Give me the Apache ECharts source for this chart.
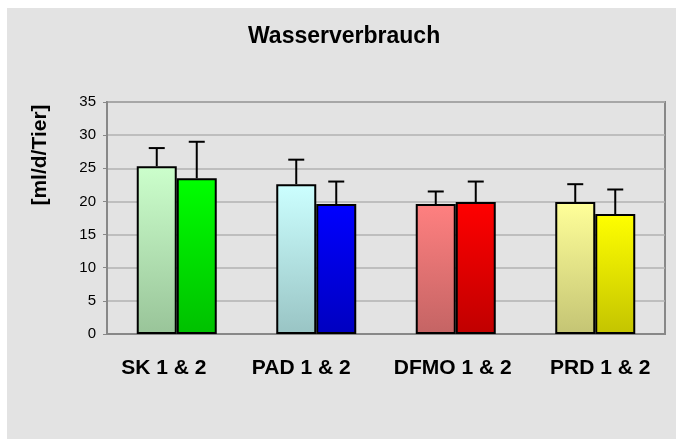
<!DOCTYPE html>
<html>
<head>
<meta charset="utf-8">
<script src="https://cdn.jsdelivr.net/npm/echarts@6/dist/echarts.min.js"></script>
<style>
html,body{margin:0;padding:0;background:#ffffff;}
#chart{width:677px;height:439px;}
</style>
</head>
<body>
<div id="chart"></div>
<script>
// ---- data ----
const categories = ['SK 1 & 2', 'PAD 1 & 2', 'DFMO 1 & 2', 'PRD 1 & 2'];
const values1 = [25.3, 22.6, 19.6, 19.9];
const values2 = [23.5, 19.6, 19.9, 18.1];
const err1 = [2.75, 3.7, 1.9, 2.7];
const err2 = [5.5, 3.4, 3.1, 3.7];
const yTicks = [0, 5, 10, 15, 20, 25, 30, 35];

// ---- styles ----
const top1 = ['#ccffcc', '#ccffff', '#ff8080', '#ffff99'];
const bot1 = ['#99c499', '#99c4c4', '#c46464', '#c4c474'];
const top2 = ['#00ff00', '#0000ff', '#ff0000', '#ffff00'];
const bot2 = ['#00c000', '#0000c0', '#c00000', '#c4c400'];
const labelShift = [-13, -15, -3, 5];
const FONT = '"Liberation Sans", Arial, sans-serif';
const BAR_W = 40;

function grad(t, b) {
  return new echarts.graphic.LinearGradient(0, 0, 0, 1, [
    { offset: 0, color: t }, { offset: 1, color: b }
  ]);
}

const chart = echarts.init(document.getElementById('chart'), null, { renderer: 'canvas' });

const errData = [];
categories.forEach((c, i) => {
  errData.push([i, values1[i], err1[i], -1]);
  errData.push([i, values2[i], err2[i], 1]);
});

const catItems = categories.map((c, i) => {
  const d = labelShift[i];
  return { value: c, textStyle: { padding: d < 0 ? [0, -2 * d, 0, 0] : [0, 0, 0, 2 * d] } };
});

const option = {
  backgroundColor: '#ffffff',
  animation: false,
  graphic: [
    { type: 'rect', z: -10, silent: true, shape: { x: 7, y: 8, width: 669, height: 431 }, style: { fill: '#e3e3e3' } },
    { type: 'text', z: 10, x: 40, y: 155, rotation: Math.PI / 2,
      style: { text: '[ml/d/Tier]', font: 'bold 21px ' + FONT, fill: '#000', textAlign: 'center', textVerticalAlign: 'middle' } }
  ],
  title: {
    text: 'Wasserverbrauch', left: 243, top: 20,
    textStyle: { fontFamily: FONT, fontWeight: 'bold', fontSize: 23, color: '#000' }
  },
  grid: {
    left: 107, right: 12, top: 102, bottom: 105,
    show: true, borderColor: '#888888', borderWidth: 2, backgroundColor: 'transparent'
  },
  xAxis: {
    type: 'category', data: catItems,
    axisLine: { lineStyle: { color: '#888888', width: 2 } },
    axisTick: { show: false },
    axisLabel: { interval: 0, fontFamily: FONT, fontWeight: 'bold', fontSize: 21, color: '#000', margin: 24 }
  },
  yAxis: {
    type: 'value', min: yTicks[0], max: yTicks[yTicks.length - 1], interval: 5,
    axisLine: { show: true, lineStyle: { color: '#888888', width: 2 } },
    axisTick: { show: true, length: 4, lineStyle: { color: '#888888', width: 1 } },
    axisLabel: { fontFamily: FONT, fontSize: 15, color: '#000', margin: 11 },
    splitLine: { lineStyle: { color: '#b2b2b2', width: 1.5 } }
  },
  series: [
    {
      type: 'bar', barWidth: BAR_W, barGap: '0%',
      data: values1.map((v, i) => ({ value: v, itemStyle: { color: grad(top1[i], bot1[i]) } })),
      itemStyle: { borderColor: '#000', borderWidth: 2 }
    },
    {
      type: 'bar', barWidth: BAR_W, barGap: '0%',
      data: values2.map((v, i) => ({ value: v, itemStyle: { color: grad(top2[i], bot2[i]) } })),
      itemStyle: { borderColor: '#000', borderWidth: 2 }
    },
    {
      type: 'custom', z: 1,
      data: errData,
      renderItem: function (params, api) {
        const ci = api.value(0), v = api.value(1), e = api.value(2), side = api.value(3);
        const p0 = api.coord([ci, v]);
        const p1 = api.coord([ci, v + e]);
        const x = p0[0] + side * BAR_W / 2;
        const half = 8;
        const st = { stroke: '#000', lineWidth: 2 };
        return {
          type: 'group',
          children: [
            { type: 'line', shape: { x1: x, y1: p0[1], x2: x, y2: p1[1] }, style: st },
            { type: 'line', shape: { x1: x - half, y1: p1[1], x2: x + half, y2: p1[1] }, style: st }
          ]
        };
      }
    }
  ]
};
chart.setOption(option);
</script>
</body>
</html>
